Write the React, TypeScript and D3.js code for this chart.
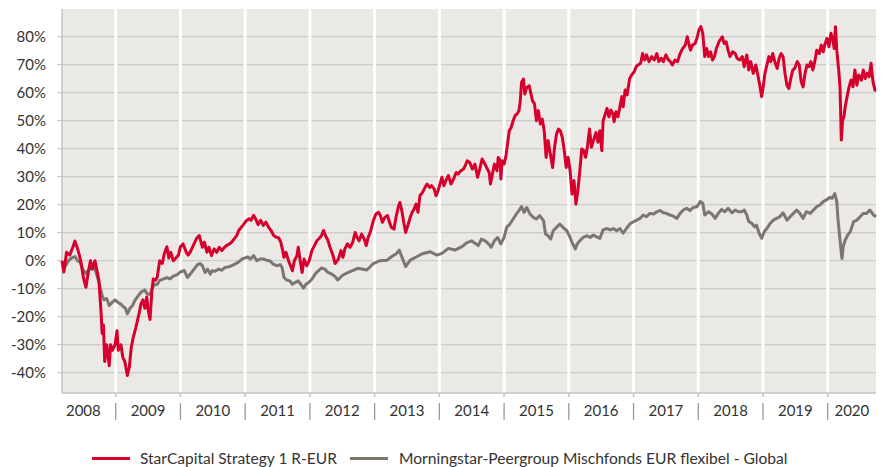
import React from "react";
import * as d3 from "d3";

const WIDTH = 883;
const HEIGHT = 467;

const yearBoundaries = [2008, 2009, 2010, 2011, 2012, 2013, 2014, 2015, 2016, 2017, 2018, 2019, 2020];
const yearLabels = ["2008", "2009", "2010", "2011", "2012", "2013", "2014", "2015", "2016", "2017", "2018", "2019", "2020"];
const yTicks = [-40, -30, -20, -10, 0, 10, 20, 30, 40, 50, 60, 70, 80];
const timeDomain: [number, number] = [2008.17, 2020.746];
const valueDomain: [number, number] = [-47.25, 89.9];

const seriesNames = ["StarCapital Strategy 1 R-EUR", "Morningstar-Peergroup Mischfonds EUR flexibel - Global"];

// [decimal year, cumulative performance %]
const strategy: [number, number][] = [
  [2008.17, 0], [2008.2, -4], [2008.24, 3], [2008.29, 2], [2008.34, 5], [2008.37, 7], [2008.4, 5], [2008.42, 3.5], [2008.46, 0], [2008.5, -6], [2008.54, -9.5], [2008.58, -3.5], [2008.61, 0], [2008.64, -3], [2008.68, 0], [2008.71, -3.5], [2008.74, -7], [2008.77, -17], [2008.79, -26], [2008.81, -23], [2008.83, -36], [2008.86, -30], [2008.9, -37.5], [2008.92, -30], [2008.95, -32], [2008.99, -30], [2009.02, -25], [2009.04, -32], [2009.08, -30], [2009.11, -34.5], [2009.14, -36], [2009.18, -41], [2009.21, -38], [2009.24, -31], [2009.27, -27.5], [2009.31, -24], [2009.36, -19], [2009.39, -15.5], [2009.42, -14], [2009.45, -17], [2009.48, -13], [2009.5, -17.5], [2009.53, -21], [2009.56, -10.5], [2009.58, -6.5], [2009.61, -7], [2009.64, -6], [2009.68, 0], [2009.72, -1], [2009.75, 2.5], [2009.79, 5], [2009.82, 1], [2009.85, 3], [2009.89, 0], [2009.93, 1], [2009.97, 2], [2010.0, 5], [2010.04, 6], [2010.09, 3], [2010.12, 2], [2010.16, 3.5], [2010.21, 6], [2010.25, 8], [2010.29, 9],
  [2010.34, 4.8], [2010.37, 6.6], [2010.41, 3], [2010.44, 4.8], [2010.48, 1.8], [2010.52, 4.2], [2010.56, 3], [2010.6, 4.8], [2010.64, 3.6], [2010.68, 4.8], [2010.71, 5.4], [2010.76, 6], [2010.79, 6.6], [2010.83, 7.8], [2010.87, 9], [2010.9, 10.8], [2010.95, 12.2], [2010.99, 13.4], [2011.02, 14.4], [2011.06, 15], [2011.09, 14.4], [2011.13, 16.2], [2011.16, 15], [2011.2, 12.9], [2011.24, 14.4], [2011.28, 12.6], [2011.32, 13.8], [2011.36, 12], [2011.4, 10.8], [2011.44, 9], [2011.48, 8.4], [2011.52, 8.1], [2011.55, 6.6], [2011.58, 3.6], [2011.6, 1.2], [2011.63, 3], [2011.67, 0], [2011.7, -1.8], [2011.73, -3.6], [2011.76, 0], [2011.8, 1.8], [2011.82, 4.8], [2011.85, 0], [2011.88, -4.2], [2011.91, 0.6], [2011.95, -1.8], [2011.99, 0],
  [2012.03, 3.6], [2012.07, 5.4], [2012.11, 7.2], [2012.15, 8.1], [2012.18, 9], [2012.21, 10.8], [2012.24, 9], [2012.28, 7.2], [2012.31, 4.8], [2012.35, 2.4], [2012.39, -1], [2012.44, 0.6], [2012.48, 3.6], [2012.51, 1.2], [2012.54, 4.2], [2012.58, 6], [2012.62, 4.8], [2012.66, 6.5], [2012.7, 10.1], [2012.73, 8.3], [2012.76, 7.1], [2012.8, 9.5], [2012.84, 7.7], [2012.87, 5.4], [2012.9, 8.3], [2012.94, 10.7], [2012.98, 14.3], [2013.02, 16.7], [2013.06, 17.3], [2013.09, 16.1], [2013.12, 13.7], [2013.16, 15.5], [2013.2, 16.1], [2013.23, 13.7], [2013.26, 11.9], [2013.3, 11.3], [2013.33, 15.5], [2013.37, 19.6], [2013.39, 20.8], [2013.42, 17.9], [2013.45, 13.7], [2013.48, 10.1], [2013.52, 13.1], [2013.55, 15.5], [2013.58, 17.3], [2013.61, 18.5], [2013.64, 20.2], [2013.67, 17.3], [2013.7, 23.2], [2013.74, 24.4], [2013.78, 26.2], [2013.81, 27.4], [2013.85, 26.2], [2013.88, 26.8], [2013.92, 25.6], [2013.95, 23.2], [2013.98, 25],
  [2014.01, 27.4], [2014.04, 29.8], [2014.07, 26.8], [2014.1, 28.6], [2014.14, 30.4], [2014.18, 27.4], [2014.22, 29.2], [2014.26, 31.5], [2014.29, 31], [2014.33, 32.1], [2014.37, 32.7], [2014.4, 33.9], [2014.43, 35.7], [2014.47, 35.1], [2014.51, 32.7], [2014.55, 34.5], [2014.59, 29.8], [2014.63, 33.3], [2014.66, 36.3], [2014.69, 35.1], [2014.73, 33.3], [2014.77, 31.5], [2014.79, 27.4], [2014.82, 31], [2014.85, 34.5], [2014.89, 32.1], [2014.91, 36.9], [2014.94, 35.7], [2014.95, 29.2], [2014.97, 35.7], [2015.0, 34.5], [2015.03, 37.5], [2015.06, 42.9], [2015.08, 46.4], [2015.11, 47.6], [2015.14, 50], [2015.17, 51.8], [2015.2, 52.4], [2015.23, 53.6], [2015.25, 57.1], [2015.27, 63.7], [2015.3, 64.9], [2015.32, 59.5], [2015.35, 61.9], [2015.39, 62.5], [2015.41, 60.1], [2015.44, 57.1], [2015.47, 56], [2015.5, 50], [2015.53, 53.6], [2015.56, 48.8], [2015.59, 50.6], [2015.62, 46.4], [2015.65, 36.9], [2015.68, 42.9], [2015.71, 38.7], [2015.75, 33.3], [2015.78, 40.5], [2015.81, 45.2], [2015.84, 47], [2015.87, 46.4], [2015.9, 44], [2015.93, 39.3], [2015.96, 33.3], [2015.99, 36.9],
  [2016.02, 32.1], [2016.05, 23.8], [2016.08, 28.6], [2016.11, 20.2], [2016.14, 25], [2016.17, 32.1], [2016.2, 39.9], [2016.23, 39.3], [2016.26, 36.9], [2016.29, 41.1], [2016.32, 47], [2016.35, 40.5], [2016.38, 42.9], [2016.42, 45.8], [2016.45, 42.3], [2016.48, 46.4], [2016.51, 39.3], [2016.53, 50], [2016.55, 51.4], [2016.59, 54.4], [2016.62, 51.4], [2016.65, 53.8], [2016.68, 52.6], [2016.7, 49.6], [2016.73, 53.2], [2016.76, 51.4], [2016.79, 55], [2016.82, 58.6], [2016.84, 55], [2016.87, 61], [2016.9, 59.2], [2016.94, 65.1], [2016.97, 66.3], [2017.01, 67.5], [2017.04, 69.3], [2017.07, 69.9], [2017.11, 70.5], [2017.14, 74], [2017.17, 71.7], [2017.2, 73.5], [2017.24, 71.1], [2017.28, 72.9], [2017.32, 71.7], [2017.36, 74], [2017.39, 71.1], [2017.43, 72.3], [2017.46, 71.1], [2017.5, 73.5], [2017.54, 71.7], [2017.57, 71.1], [2017.6, 69.9], [2017.64, 71.7], [2017.68, 71.1], [2017.72, 74], [2017.76, 75.8], [2017.8, 77], [2017.83, 80], [2017.86, 77], [2017.88, 75.2], [2017.91, 77], [2017.95, 77.6], [2017.98, 79.4],
  [2018.01, 82.4], [2018.04, 83.6], [2018.07, 81.2], [2018.1, 72.9], [2018.13, 75.8], [2018.16, 72.9], [2018.19, 74.6], [2018.22, 71.7], [2018.25, 72.9], [2018.28, 75.8], [2018.32, 78.2], [2018.37, 80], [2018.4, 77.6], [2018.43, 78.2], [2018.46, 75.2], [2018.49, 72.9], [2018.53, 74.6], [2018.57, 74], [2018.6, 72.3], [2018.64, 71.7], [2018.68, 72.9], [2018.71, 69.3], [2018.75, 73.5], [2018.78, 68.1], [2018.81, 71.1], [2018.85, 66.9], [2018.89, 69.9], [2018.92, 66.3], [2018.95, 62.7], [2018.98, 58.6], [2019.0, 61.5], [2019.03, 66.9], [2019.06, 69.9], [2019.09, 72.9], [2019.12, 71.1], [2019.15, 74], [2019.19, 70.5], [2019.22, 68.7], [2019.25, 72.3], [2019.28, 74], [2019.31, 72.9], [2019.34, 66.9], [2019.37, 62.7], [2019.4, 61.5], [2019.43, 65.1], [2019.46, 68.1], [2019.49, 68.7], [2019.53, 71.1], [2019.56, 69.9], [2019.59, 63.9], [2019.62, 62.1], [2019.65, 66.9], [2019.68, 69.9], [2019.71, 69.3], [2019.74, 71.1], [2019.77, 68.1], [2019.8, 71.1], [2019.83, 75.2], [2019.87, 74], [2019.9, 77], [2019.93, 74.6], [2019.96, 77.6], [2019.99, 79.4],
  [2020.02, 76.4], [2020.05, 81.2], [2020.08, 78.8], [2020.1, 75.8], [2020.12, 83.6], [2020.14, 75.2], [2020.17, 68.1], [2020.19, 62.1], [2020.21, 43.1], [2020.23, 50.2], [2020.25, 51.4], [2020.27, 55], [2020.3, 58.6], [2020.33, 62.1], [2020.36, 64.5], [2020.39, 62.1], [2020.42, 68.1], [2020.45, 62.7], [2020.48, 66.3], [2020.52, 64.5], [2020.55, 68.1], [2020.58, 65.1], [2020.61, 66.9], [2020.64, 65.7], [2020.67, 70.5], [2020.7, 63.9], [2020.73, 60.9], [2020.746, 61],
];

const peer: [number, number][] = [
  [2008.17, -1], [2008.22, -2], [2008.27, 0], [2008.32, 1], [2008.37, 1.5], [2008.41, 0], [2008.45, -0.5], [2008.49, -3], [2008.53, -4.5], [2008.58, -3.5], [2008.63, -2.5], [2008.68, -3], [2008.72, -6], [2008.76, -9.5], [2008.79, -12.5], [2008.82, -14], [2008.86, -13.5], [2008.9, -16], [2008.94, -15], [2008.99, -14], [2009.04, -15], [2009.08, -15.5], [2009.12, -16.5], [2009.15, -17], [2009.18, -19], [2009.22, -17], [2009.26, -16], [2009.3, -14], [2009.35, -12.5], [2009.4, -11], [2009.45, -10.5], [2009.49, -12], [2009.53, -12], [2009.57, -9.5], [2009.61, -8.5], [2009.64, -8.5], [2009.68, -7], [2009.74, -6.5], [2009.79, -6], [2009.84, -6.5], [2009.89, -5.5], [2009.95, -5], [2010.0, -4], [2010.06, -3.5], [2010.11, -6], [2010.16, -4.5], [2010.21, -3], [2010.26, -1.5], [2010.3, -1],
  [2010.34, -1.8], [2010.38, -4.2], [2010.42, -3], [2010.46, -4.8], [2010.49, -3.6], [2010.53, -3.8], [2010.59, -3], [2010.64, -3.4], [2010.69, -2.4], [2010.74, -2.2], [2010.79, -1.8], [2010.84, -1.2], [2010.89, -0.6], [2010.95, 0.6], [2011.0, 1], [2011.04, 1.4], [2011.08, 0.6], [2011.13, 1.8], [2011.18, 0], [2011.23, 0.6], [2011.28, 0.6], [2011.33, 0.2], [2011.38, 0], [2011.43, -1.2], [2011.49, -1.8], [2011.54, -1.4], [2011.57, -2.4], [2011.6, -6], [2011.64, -6.9], [2011.69, -7.2], [2011.73, -8.4], [2011.77, -7.8], [2011.82, -7.2], [2011.86, -8.4], [2011.9, -9.8], [2011.94, -8.4], [2011.98, -7.8],
  [2012.03, -6.6], [2012.08, -4.8], [2012.13, -3.6], [2012.18, -2.6], [2012.23, -3], [2012.28, -4.2], [2012.34, -4.8], [2012.39, -5.7], [2012.43, -6.9], [2012.51, -5.1], [2012.62, -3.9], [2012.74, -2.7], [2012.88, -3.3], [2012.98, -1], [2013.08, 0], [2013.19, 0.2], [2013.26, 1.4], [2013.34, 2.6], [2013.38, 3.8], [2013.42, 1.4], [2013.48, -2.1], [2013.55, 0.2], [2013.65, 1.4], [2013.75, 2.6], [2013.86, 3.2], [2013.96, 2],
  [2014.04, 2.6], [2014.14, 4.4], [2014.24, 3.8], [2014.35, 5], [2014.42, 6.4], [2014.5, 7.1], [2014.55, 6.2], [2014.6, 5.4], [2014.65, 7.7], [2014.71, 7.1], [2014.76, 6], [2014.8, 4.8], [2014.85, 7.1], [2014.9, 8.3], [2014.95, 6], [2015.0, 8.3], [2015.04, 11.9], [2015.09, 13.1], [2015.14, 14.9], [2015.19, 16.7], [2015.23, 17.9], [2015.27, 19.3], [2015.31, 17.3], [2015.35, 19], [2015.4, 16.7], [2015.45, 15.5], [2015.5, 14.9], [2015.55, 16.1], [2015.61, 14.3], [2015.64, 9.5], [2015.68, 8.9], [2015.72, 7.7], [2015.76, 10.7], [2015.81, 11.9], [2015.86, 13.1], [2015.91, 11.9], [2015.97, 10.7],
  [2016.02, 8.3], [2016.05, 6.5], [2016.1, 4.2], [2016.13, 6], [2016.17, 7.1], [2016.22, 8.3], [2016.28, 8.9], [2016.33, 8.3], [2016.38, 9.2], [2016.43, 8.5], [2016.48, 8], [2016.53, 11], [2016.59, 11.5], [2016.64, 11], [2016.69, 11.5], [2016.74, 10.7], [2016.79, 11.5], [2016.84, 9.8], [2016.89, 11.5], [2016.95, 13.3], [2017.0, 13.9], [2017.05, 14.5], [2017.1, 15.1], [2017.15, 16.3], [2017.2, 15.7], [2017.25, 16.9], [2017.31, 16.7], [2017.36, 17.5], [2017.41, 17.9], [2017.46, 17.1], [2017.51, 16.9], [2017.56, 16.3], [2017.61, 16], [2017.67, 15.1], [2017.72, 16.9], [2017.77, 18.1], [2017.82, 18.7], [2017.87, 17.9], [2017.92, 19], [2017.98, 19.3],
  [2018.03, 21.1], [2018.07, 20.5], [2018.1, 16.3], [2018.16, 17.5], [2018.21, 16.7], [2018.26, 15.1], [2018.31, 16.9], [2018.36, 18.3], [2018.41, 17.5], [2018.46, 18.7], [2018.52, 17.1], [2018.57, 18.1], [2018.62, 17.5], [2018.67, 17.5], [2018.71, 18.1], [2018.75, 16.3], [2018.78, 14], [2018.83, 13.3], [2018.87, 12.1], [2018.9, 12.7], [2018.94, 9.8], [2018.98, 8], [2019.02, 10.4], [2019.06, 11.5], [2019.11, 13.3], [2019.16, 14.5], [2019.21, 15.1], [2019.26, 15.7], [2019.31, 17.1], [2019.37, 14.5], [2019.42, 15.7], [2019.47, 16.9], [2019.52, 18.1], [2019.57, 16.9], [2019.62, 15.1], [2019.67, 17.5], [2019.73, 16.9], [2019.78, 18.1], [2019.83, 19.3], [2019.88, 19.9], [2019.93, 21.1], [2019.98, 21.7],
  [2020.03, 22.6], [2020.07, 22.3], [2020.11, 24], [2020.14, 21.1], [2020.16, 14.5], [2020.19, 7.4], [2020.22, 0.8], [2020.24, 5], [2020.27, 7.4], [2020.31, 9.2], [2020.35, 10.4], [2020.4, 14], [2020.45, 14.5], [2020.5, 15.7], [2020.55, 16.9], [2020.6, 16.9], [2020.65, 18.1], [2020.71, 16.3], [2020.746, 15.7],
];

const RED = "#d7002d";
const GRAY = "#7d766f";
const FONT = "Lato, 'Open Sans', sans-serif";

export default function App() {
  const margin = { top: 9, right: 7, bottom: 74, left: 62 };
  const x0 = margin.left;
  const x1 = WIDTH - margin.right;
  const y0 = margin.top;
  const y1 = HEIGHT - margin.bottom;

  const x = d3.scaleLinear().domain(timeDomain).range([x0, x1]);
  const y = d3.scaleLinear().domain(valueDomain).range([y1, y0]);

  const line = d3
    .line<[number, number]>()
    .x((d) => x(d[0]))
    .y((d) => y(d[1]));

  const bounds = [...yearBoundaries, timeDomain[1]];
  const innerBoundaries = yearBoundaries.filter((b) => b > timeDomain[0]);

  return (
    <svg
      width={WIDTH}
      height={HEIGHT}
      style={{ position: "absolute", left: 0, top: 0, background: "#fff" }}
      fontFamily={FONT}
    >
      <rect x={x0} y={y0} width={x1 - x0} height={y1 - y0} fill="#ebe9e6" />
      {yTicks.map((t) => (
        <line key={"g" + t} x1={x0 - 5} x2={x1} y1={y(t)} y2={y(t)} stroke="#cbcbcb" strokeWidth={1.3} />
      ))}
      {innerBoundaries.map((b) => (
        <line key={"v" + b} x1={x(b)} x2={x(b)} y1={y0} y2={y1} stroke="#ffffff" strokeWidth={3} />
      ))}
      <line x1={x0} x2={x0} y1={y0} y2={y1} stroke="#c4c4c4" strokeWidth={1.5} />
      <line x1={x0} x2={x1} y1={y1} y2={y1} stroke="#c4c4c4" strokeWidth={1.5} />
      {innerBoundaries.map((b) => (
        <g key={"t" + b}>
          <line x1={x(b)} x2={x(b)} y1={y1} y2={y1 + 4} stroke="#c4c4c4" strokeWidth={1.5} />
          <line x1={x(b)} x2={x(b)} y1={y1 + 10} y2={y1 + 27} stroke="#9a9a9a" strokeWidth={1.3} />
        </g>
      ))}
      {yTicks.map((t) => (
        <text key={"yl" + t} x={46} y={y(t)} dy="0.35em" textAnchor="end" fontSize={15} fill="#333">
          {`${t}%`}
        </text>
      ))}
      {yearLabels.map((lab, i) => (
        <text
          key={"xl" + lab}
          x={(x(bounds[i]) + x(bounds[i + 1])) / 2}
          y={y1 + 18}
          dy="0.35em"
          textAnchor="middle"
          fontSize={15}
          fill="#333"
        >
          {lab}
        </text>
      ))}
      <path d={line(peer) || ""} fill="none" stroke={GRAY} strokeWidth={3} strokeLinejoin="round" />
      <path d={line(strategy) || ""} fill="none" stroke={RED} strokeWidth={3} strokeLinejoin="round" />
      <g>
        <line x1={92} x2={130} y1={458.5} y2={458.5} stroke={RED} strokeWidth={3} />
        <text x={140} y={458.5} dy="0.35em" fontSize={15.5} fill="#333">
          {seriesNames[0]}
        </text>
        <line x1={350} x2={388} y1={458.5} y2={458.5} stroke={GRAY} strokeWidth={3} />
        <text x={399} y={458.5} dy="0.35em" fontSize={15.6} fill="#333">
          {seriesNames[1]}
        </text>
      </g>
    </svg>
  );
}
